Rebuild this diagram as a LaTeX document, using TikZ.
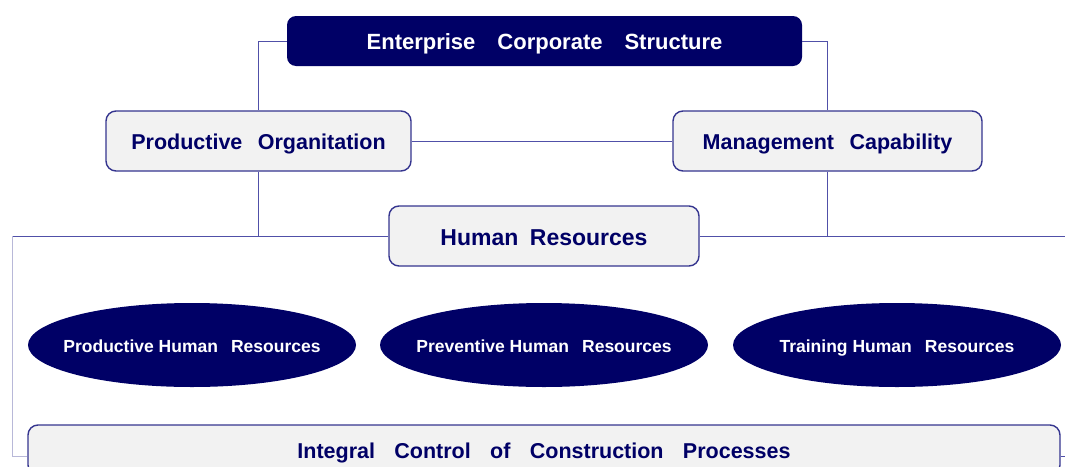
\documentclass[tikz,border=0pt]{standalone}
\usepackage{fontspec}
\setmainfont{Liberation Sans}
\usepackage{tikz}
\usetikzlibrary{shapes.geometric}
\definecolor{navy}{HTML}{000066}
\definecolor{edge}{HTML}{35358F}
\definecolor{wire}{HTML}{5050A8}
\definecolor{paleWire}{HTML}{B8B8D8}
\definecolor{panel}{HTML}{F2F2F2}
\newcommand{\gap}[1][0.75em]{\hspace{#1}}
% #1 = font size in pt; fixed text height keeps the capitals centred
\tikzset{
  fontPt/.style={font=\bfseries\fontsize{#1}{#1}\selectfont, text height={0.8*#1pt}, text depth=0pt},
  headBox/.style={fill=navy, rounded corners=9pt, text=white, fontPt=#1},
  headBox/.default=22,
  unitBox/.style={draw=edge, line width=1.4pt, fill=panel, rounded corners=10pt, text=navy, fontPt=#1},
  unitBox/.default=21.5,
  hrBubble/.style={ellipse, fill=navy, minimum width=328pt, minimum height=84pt, inner sep=0pt, inner xsep=-50pt, text=white, fontPt=#1},
  hrBubble/.default=17.5,
  link/.style={draw=wire, line width=1pt}
}

\begin{document}
\begin{tikzpicture}[x=1pt,y=-1pt]
  \clip (0,0) rectangle (1065,466);
  \useasboundingbox (0,0) rectangle (1065,466);

  % boxes
  \node[headBox, minimum width=515pt, minimum height=50pt] (ecs) at (544.5,41) {Enterprise\gap[1em]Corporate\gap[1em]Structure};
  \node[unitBox, minimum width=305pt, minimum height=60pt] (prod) at (258.5,141) {Productive\gap[0.72em]Organitation};
  \node[unitBox, minimum width=309pt, minimum height=60pt] (mgmt) at (827.5,141) {Management\gap[0.72em]Capability};
  \node[unitBox=23, minimum width=310pt, minimum height=60pt] (hr) at (544,236) {Human\gap[0.5em]Resources};

  % the three kinds of human resources
  \node[hrBubble] (phr) at (192,345) {Productive Human\gap Resources};
  \node[hrBubble] (vhr) at (544,345) {Preventive Human\gap Resources};
  \node[hrBubble] (thr) at (897,345) {Training Human\gap Resources};

  \node[unitBox, minimum width=1032pt, minimum height=50pt] (ctrl) at (544,450) {Integral\gap[0.9em]Control\gap[0.9em]of\gap[0.9em]Construction\gap[0.9em]Processes};

  % connectors
  \draw[link] (ecs.west) -| (prod.north);
  \draw[link] (ecs.east) -| (mgmt.north);
  \draw[link] (prod.east) -- (mgmt.west);
  \draw[link] (prod.south) -- (prod.south |- hr.west);
  \draw[link] (mgmt.south) -- (mgmt.south |- hr.east);
  \draw[link] (hr.west) -- (12,236);
  \draw[link] (hr.east) -- (1065,236);
  \draw[draw=paleWire, line width=1pt] (12,236) -- (12,456) -- ([yshift=-6pt]ctrl.west);
  \draw[link] ([yshift=-6pt]ctrl.east) -- (1065,456);
\end{tikzpicture}
\end{document}
